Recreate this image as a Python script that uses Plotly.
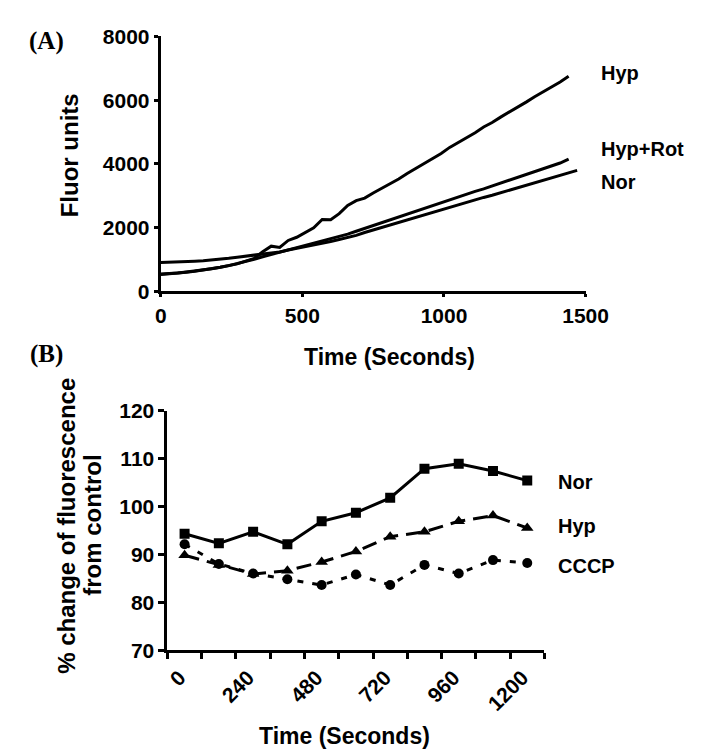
import plotly.graph_objects as go

W, H = 709, 753

# ---------------- Panel A data ----------------
t_hyp = list(range(0, 1441, 30))
hyp = [550, 555, 580, 610, 640, 675, 715, 760, 810, 865,
       950, 1040, 1250, 1420, 1380, 1600, 1700, 1860, 2000, 2260,
       2250, 2440, 2700, 2850, 2930, 3090, 3230, 3390, 3530, 3700,
       3860, 4000, 4180, 4330, 4520, 4670, 4840, 4980, 5160, 5300,
       5470, 5620, 5790, 5940, 6110, 6260, 6430, 6570, 6750]

t_hyprot = list(range(0, 1441, 30))
hyprot = [530, 550, 575, 605, 635, 670, 710, 760, 810, 870,
          940, 1010, 1090, 1160, 1230, 1300, 1370, 1430, 1500, 1570,
          1640, 1720, 1800, 1890, 1980, 2070, 2170, 2260, 2350, 2440,
          2530, 2610, 2700, 2790, 2880, 2960, 3050, 3140, 3220, 3310,
          3400, 3480, 3570, 3660, 3740, 3830, 3920, 4030, 4150]

t_nor = list(range(0, 1471, 30))
nor = [910, 915, 925, 935, 950, 965, 985, 1010, 1040, 1075,
       1110, 1140, 1170, 1200, 1240, 1300, 1350, 1410, 1460, 1510,
       1570, 1630, 1690, 1760, 1850, 1930, 2010, 2090, 2170, 2240,
       2320, 2400, 2480, 2560, 2630, 2710, 2790, 2870, 2950, 3020,
       3100, 3180, 3260, 3330, 3410, 3490, 3570, 3640, 3720, 3800]

a_xticks = [0, 500, 1000, 1500]
a_yticks = [0, 2000, 4000, 6000, 8000]

# ---------------- Panel B data ----------------
b_time = [0, 120, 240, 360, 480, 600, 720, 840, 960, 1080, 1200]
b_nor = [94.3, 92.3, 94.7, 92.1, 96.9, 98.7, 101.8, 107.9, 108.9, 107.4, 105.4]
b_hyp = [89.8, 87.8, 85.9, 86.6, 88.4, 90.6, 93.7, 94.7, 96.9, 98.1, 95.5]
b_cccp = [92.1, 88.0, 86.0, 84.8, 83.6, 85.8, 83.6, 87.8, 86.0, 88.8, 88.2]
b_xlabels = [0, 240, 480, 720, 960, 1200]
b_xticks = [-60, 60, 180, 300, 420, 540, 660, 780, 900, 1020, 1140, 1260]
b_yticks = [70, 80, 90, 100, 110, 120]

FONT = "Liberation Sans, Arial, Helvetica, sans-serif"
SERIF = "Liberation Serif, Times New Roman, serif"


def px(x):
    return x / W


def py(y):
    return 1 - y / H


fig = go.Figure()

line_a = dict(color="black", width=3)
fig.add_trace(go.Scatter(x=t_hyp, y=hyp, mode="lines", line=line_a, xaxis="x", yaxis="y"))
fig.add_trace(go.Scatter(x=t_hyprot, y=hyprot, mode="lines", line=line_a, xaxis="x", yaxis="y"))
fig.add_trace(go.Scatter(x=t_nor, y=nor, mode="lines", line=line_a, xaxis="x", yaxis="y"))

fig.add_trace(go.Scatter(x=b_time, y=b_nor, mode="lines+markers",
                         line=dict(color="black", width=3),
                         marker=dict(symbol="square", size=10, color="black"),
                         xaxis="x2", yaxis="y2"))
fig.add_trace(go.Scatter(x=b_time, y=b_hyp, mode="lines+markers",
                         line=dict(color="black", width=3, dash="15px,8px"),
                         marker=dict(symbol="triangle-up", size=11, color="black"),
                         xaxis="x2", yaxis="y2"))
fig.add_trace(go.Scatter(x=b_time, y=b_cccp, mode="lines+markers",
                         line=dict(color="black", width=3, dash="6px,9px"),
                         marker=dict(symbol="circle", size=10, color="black"),
                         xaxis="x2", yaxis="y2"))

tickfont = dict(family=FONT, size=21, color="black", weight="bold")
axis_common = dict(showline=True, linecolor="black", linewidth=3, showgrid=False,
                   zeroline=False, ticks="outside", tickcolor="black", tickwidth=3,
                   tickfont=tickfont)

fig.update_layout(
    width=W, height=H,
    margin=dict(l=0, r=0, t=0, b=0),
    paper_bgcolor="white", plot_bgcolor="white",
    showlegend=False,
    xaxis=dict(domain=[px(153), px(596)], range=[0, 1500], tickvals=a_xticks,
               anchor="y", ticklen=3, **axis_common),
    yaxis=dict(domain=[py(280), py(17)], range=[0, 8000], tickvals=a_yticks,
               anchor="x", ticklen=4, **axis_common),
    xaxis2=dict(domain=[px(160), px(553)], range=[-60, 1260], tickvals=b_xticks,
                showticklabels=False, anchor="y2", ticklen=6, **axis_common),
    yaxis2=dict(domain=[py(650), py(403)], range=[70, 120], tickvals=b_yticks,
                anchor="x2", ticklen=6, **axis_common),
    xaxis3=dict(overlaying="x2", anchor="y2", range=[-60, 1260], tickvals=b_xlabels,
                ticktext=[str(v) for v in b_xlabels], tickangle=-45, showline=False,
                showgrid=False, zeroline=False, ticks="outside", ticklen=6,
                tickcolor="rgba(0,0,0,0)", side="bottom", tickfont=tickfont,
                ticklabelshift=-5),
)

# invisible trace to activate xaxis3
fig.add_trace(go.Scatter(x=[b_time[0]], y=[b_nor[0]], mode="markers",
                         marker=dict(opacity=0), xaxis="x3", yaxis="y2",
                         hoverinfo="skip"))

ann_font = dict(family=FONT, size=20, color="black", weight="bold")
title_font = dict(family=FONT, size=23, color="black", weight="bold")
ytitle_font = dict(family=FONT, size=24, color="black", weight="bold")
serif_font = dict(family=SERIF, size=25, color="black", weight="bold")
annotations = [
    dict(text="(A)", x=px(34), y=py(22), font=serif_font),
    dict(text="(B)", x=px(34), y=py(345), font=serif_font),
    dict(text="Fluor units", x=px(58), y=py(140), textangle=-90, font=ytitle_font),
    dict(text="Time (Seconds)", x=px(391), y=py(348), font=title_font),
    dict(text="% change of fluorescence", x=px(54), y=py(522), textangle=-90, font=ytitle_font),
    dict(text="from control", x=px(81), y=py(521), textangle=-90, font=ytitle_font),
    dict(text="Time (Seconds)", x=px(345), y=py(739), font=title_font),
    dict(text="Hyp", x=px(610), y=py(55), xanchor="left", font=ann_font),
    dict(text="Hyp+Rot", x=px(610), y=py(133), xanchor="left", font=ann_font),
    dict(text="Nor", x=px(610), y=py(167), xanchor="left", font=ann_font),
    dict(text="Nor", x=px(565), y=py(477), xanchor="left", font=ann_font),
    dict(text="Hyp", x=px(565), y=py(522), xanchor="left", font=ann_font),
    dict(text="CCCP", x=px(565), y=py(563), xanchor="left", font=ann_font),
]
for a in annotations:
    a.setdefault("xanchor", "center")
    a.update(xref="paper", yref="paper", yanchor="middle", showarrow=False)
fig.update_layout(annotations=annotations)

fig.write_html("out.html")
